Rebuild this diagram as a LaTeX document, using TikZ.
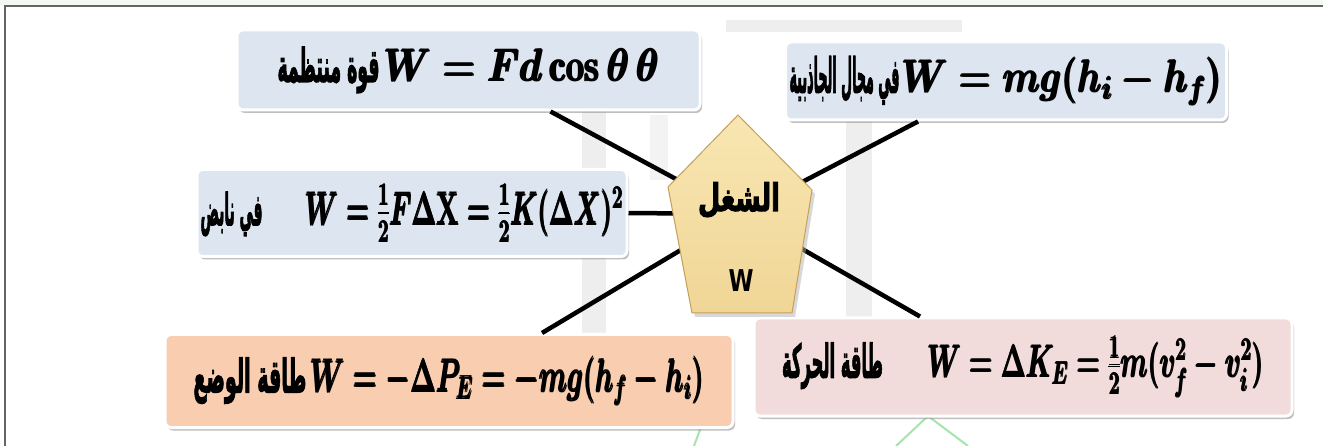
\RequirePackage{fix-cm}
\documentclass[tikz,border=0pt]{standalone}
\usepackage{fontspec}
\usepackage{amsmath}
\usepackage{graphicx}
\usetikzlibrary{shadows,calc}
\TeXXeTstate=1
\newfontfamily\arabicfont[Script=Arabic, BoldFeatures={FakeBold=3}]{DejaVu Sans}
\newfontfamily\wfont{DejaVu Sans}
\newcommand{\artext}[1]{{\arabicfont\bfseries #1}}
% #1 arabic size, #2 arabic width, #3 arabic text, #4 gap, #5 math width, #6 math
\newcommand{\pairtext}[6]{%
  \resizebox{#2pt}{\height}{\fontsize{#1}{#1}\selectfont\artext{#3}}%
  \hspace{#4pt}%
  \resizebox{#5pt}{\height}{$\pmb{#6}$}}
\definecolor{boxblue}{RGB}{220,229,240}
\definecolor{boxpeach}{RGB}{249,206,176}
\definecolor{boxpink}{RGB}{242,220,219}
\definecolor{pentfill}{RGB}{240,214,150}
\definecolor{penttop}{RGB}{248,230,178}
\definecolor{pentdraw}{RGB}{196,160,90}
\definecolor{framecol}{RGB}{100,100,100}
\definecolor{topstrip}{RGB}{243,249,243}
\definecolor{wmgrey}{RGB}{238,238,238}
\definecolor{wmgreen}{RGB}{165,228,172}
\begin{document}
\begin{tikzpicture}[x=1pt,y=-1pt,
  box/.style={draw=white, line width=3pt, rounded corners=6pt, inner sep=0pt,
    align=center, font=\fontsize{46}{50}\selectfont\boldmath,
    drop shadow={shadow xshift=2pt, shadow yshift=-3pt, fill=black!45, opacity=0.55}},
  conn/.style={draw=black, line width=4.5pt},
  wm/.style={fill=wmgrey}]
\useasboundingbox (0,0) rectangle (1323,446);
\fill[white] (0,0) rectangle (1323,446);
\fill[topstrip] (0,0) rectangle (1323,6);
\draw[framecol, line width=1.5pt] (5,446) -- (5,6) -- (1323,6);

% faint watermark in the background
\fill[wm] (582,110) rectangle (606,335);
\fill[wm] (846,55) rectangle (872,320);
\fill[wm] (726,20) rectangle (962,32);
\fill[wmgrey!70] (650,115) rectangle (668,180);
\draw[wmgreen, line width=2pt] (694,446) -- (708,408);
\draw[wmgreen, line width=2pt] (896,446) -- (928,416) -- (968,446);

% boxes
\node[box, fill=boxblue, minimum width=463pt, minimum height=80pt] (tl) at (468.5,70)
  {\pairtext{46}{102}{\beginR قوة منتظمة\endR}{5}{275}{W = Fd\cos\theta\,\theta}};
\node[box, fill=boxblue, minimum width=441pt, minimum height=78pt] (tr) at (1006,81)
  {\pairtext{48}{110}{\beginR في مجال الجاذبية\endR}{3}{320}{W = mg(h_i - h_f)}};
\node[box, fill=boxblue, minimum width=430pt, minimum height=87pt] (ml) at (412,213)
  {\pairtext{44}{62}{\beginR في نابض\endR}{43}{318}{W = \tfrac{1}{2}F\Delta\mathbf{X} = \tfrac{1}{2}K(\Delta X)^2}};
\node[box, fill=boxpeach, minimum width=568pt, minimum height=93pt] (bl) at (449,381)
  {\pairtext{46}{113}{\beginR طاقة الوضع\endR}{4}{394}{W = -\Delta P_E = -mg(h_f - h_i)}};
\node[box, fill=boxpink, minimum width=538pt, minimum height=98pt] (br) at (1023,367)
  {\pairtext{46}{101}{\beginR طاقة الحركة\endR}{45}{336}{W = \Delta K_E = \tfrac{1}{2}m(v_f^2 - v_i^2)}};

% centre of the pentagon and its corners
\coordinate (c) at (741,214);
\coordinate (pT) at (738,115);
\coordinate (pR) at (812,190);
\coordinate (pBR) at (792,313);
\coordinate (pBL) at (692,313);
\coordinate (pL) at (668,187);

% connectors
\draw[conn] ([xshift=82pt]tl.south) -- (c);
\draw[conn] ([xshift=-88pt]tr.south) -- (c);
\draw[conn] (ml.east) -- (c);
\draw[conn] ([xshift=93pt]bl.north) -- (c);
\draw[conn] ([xshift=-103pt]br.north) -- (c);

% pentagon
\fill[black!30, opacity=0.5] ([shift={(3,4)}]pT) -- ([shift={(3,4)}]pR) -- ([shift={(3,4)}]pBR) -- ([shift={(3,4)}]pBL) -- ([shift={(3,4)}]pL) -- cycle;
\path[top color=penttop, bottom color=pentfill, draw=pentdraw, line width=1pt]
  (pT) -- (pR) -- (pBR) -- (pBL) -- (pL) -- cycle;
\node (lbl) at (739,200) {\resizebox{82pt}{\height}{\fontsize{38}{40}\selectfont\artext{\beginR الشغل\endR}}};
\node (wl) at (741,281) {\resizebox{25pt}{\height}{\wfont\bfseries\fontsize{30}{32}\selectfont W}};
\end{tikzpicture}
\end{document}
